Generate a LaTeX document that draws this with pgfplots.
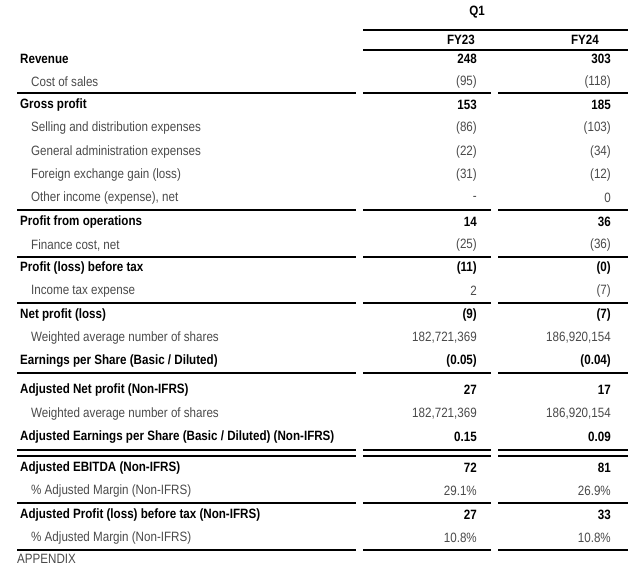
\documentclass[border=0pt]{standalone}
\usepackage{fontspec}
\setmainfont{Liberation Sans}[FakeStretch=0.86]
\usepackage{xcolor}
\usepackage{pgfplots}
\pgfplotsset{compat=1.18}
\definecolor{txt}{HTML}{4A4A4A}

\tikzset{tb/.style={inner sep=0pt, font=\fontsize{13.5}{15}\selectfont\bfseries},
         tr/.style={inner sep=0pt, text=txt, font=\fontsize{13.5}{15}\selectfont}}
% bold row and regular row: y, label, FY23, FY24
\newcommand{\brow}[4]{%
  \node[tb, anchor=west] at (axis cs:20,#1) {#2};
  \node[tb, anchor=east] at (axis cs:477,#1) {#3};
  \node[tb, anchor=east] at (axis cs:611,#1) {#4};}
\newcommand{\rrow}[4]{%
  \node[tr, anchor=west] at (axis cs:31,#1) {#2};
  \node[tr, anchor=east] at (axis cs:477,#1) {#3};
  \node[tr, anchor=east] at (axis cs:611,#1) {#4};}

\begin{document}
\begin{tikzpicture}
\useasboundingbox (0,0) rectangle (640pt,588pt);
\begin{axis}[
    width=640pt, height=588pt, scale only axis,
    xmin=0, xmax=640, ymin=0, ymax=588, y dir=reverse,
    axis lines=none, clip=false,
  ]
% rules
\pgfplotsinvokeforeach{30,50}{
  \addplot[black, line width=1.4pt] coordinates {(363,#1) (628,#1)};}
\pgfplotsinvokeforeach{93,210,257,303,373,450,456,503,550}{
  \addplot[black, line width=1.4pt] coordinates {(17,#1) (356,#1)};
  \addplot[black, line width=1.4pt] coordinates {(363,#1) (491,#1)};
  \addplot[black, line width=1.4pt] coordinates {(498,#1) (628,#1)};}

% header
\node[tb] at (axis cs:477,12) {Q1};
\node[tb] at (axis cs:461,40) {FY23};
\node[tb] at (axis cs:585,40) {FY24};

\brow{59}{Revenue}{248}{303}
\rrow{82}{Cost of sales}{(95)}{(118)}
\brow{105}{Gross profit}{153}{185}
\rrow{128}{Selling and distribution expenses}{(86)}{(103)}
\rrow{152}{General administration expenses}{(22)}{(34)}
\rrow{175}{Foreign exchange gain (loss)}{(31)}{(12)}
\rrow{198}{Other income (expense), net}{-}{0}
\brow{222}{Profit from operations}{14}{36}
\rrow{245}{Finance cost, net}{(25)}{(36)}
\brow{268}{Profit (loss) before tax}{(11)}{(0)}
\rrow{291}{Income tax expense}{2}{(7)}
\brow{315}{Net profit (loss)}{(9)}{(7)}
\rrow{338}{Weighted average number of shares}{182,721,369}{186,920,154}
\brow{361}{Earnings per Share (Basic / Diluted)}{(0.05)}{(0.04)}
\brow{390}{Adjusted Net profit (Non-IFRS)}{27}{17}
\rrow{414}{Weighted average number of shares}{182,721,369}{186,920,154}
\brow{437}{Adjusted Earnings per Share (Basic / Diluted) (Non-IFRS)}{0.15}{0.09}
\brow{468}{Adjusted EBITDA (Non-IFRS)}{72}{81}
\rrow{491}{\% Adjusted Margin (Non-IFRS)}{29.1\%}{26.9\%}
\brow{515}{Adjusted Profit (loss) before tax (Non-IFRS)}{27}{33}
\rrow{538}{\% Adjusted Margin (Non-IFRS)}{10.8\%}{10.8\%}
\node[tr, anchor=west] at (axis cs:17,559) {APPENDIX};
\end{axis}
\end{tikzpicture}
\end{document}
